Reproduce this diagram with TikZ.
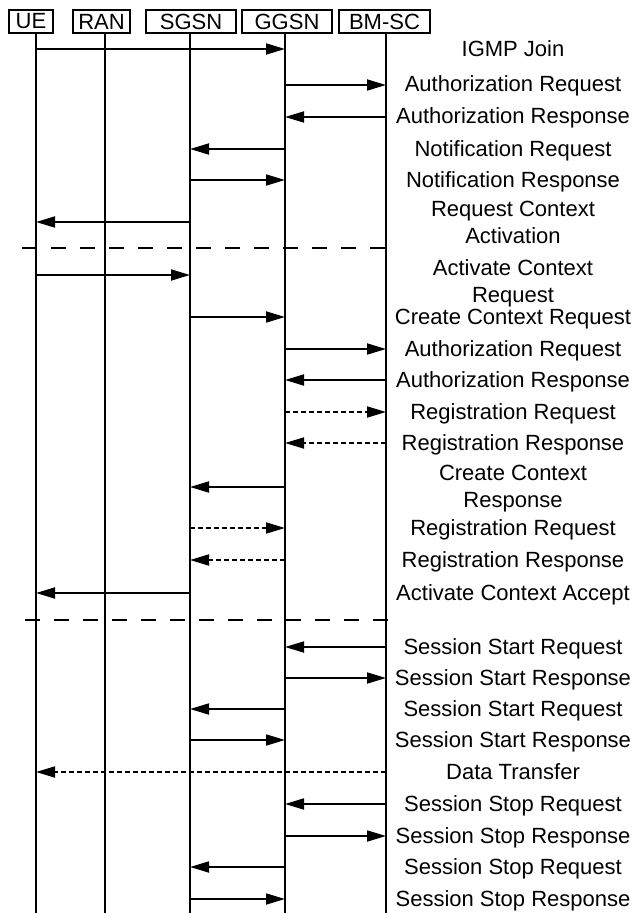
\documentclass[tikz,border=0pt]{standalone}
\usepackage{fontspec}
\setmainfont{Liberation Sans}
\usetikzlibrary{arrows.meta}
\begin{document}
\begin{tikzpicture}[x=1pt,y=-1pt,
  hdr/.style={draw, line width=1.3pt, minimum height=23pt, inner sep=0pt, font=\fontsize{22}{24}\selectfont},
  life/.style={line width=1.8pt},
  msg/.style={line width=1.8pt, -{Triangle[length=19pt,width=11pt]}},
  dmsg/.style={msg, dash pattern=on 5pt off 3pt},
  sepline/.style={line width=1.8pt, dash pattern=on 15pt off 14pt},
  lbl/.style={font=\fontsize{22}{27}\selectfont, align=center, inner sep=0pt, anchor=base}]
\useasboundingbox (0,0) rectangle (636,913);
% header boxes
\node[hdr, minimum width=44pt] (UE)   at (31,21.5)   {UE};
\node[hdr, minimum width=57pt] (RAN)  at (101.5,21.5) {RAN};
\node[hdr, minimum width=90pt] (SGSN) at (191,21.5)  {SGSN};
\node[hdr, minimum width=90pt] (GGSN) at (287,21.5)  {GGSN};
\node[hdr, minimum width=91pt] (BMSC) at (384.5,21.5) {BM-SC};
% lifeline x positions
\coordinate (xUE) at (36,0);
\coordinate (xRAN) at (105,0);
\coordinate (xSGSN) at (190,0);
\coordinate (xGGSN) at (285,0);
\coordinate (xBMSC) at (386,0);
\coordinate (bot) at (0,913);
\draw[life] (UE.south -| xUE) -- (xUE |- bot);
\draw[life] (RAN.south -| xRAN) -- (xRAN |- bot);
\draw[life] (SGSN.south -| xSGSN) -- (xSGSN |- bot);
\draw[life] (GGSN.south -| xGGSN) -- (xGGSN |- bot);
\draw[life] (BMSC.south -| xBMSC) -- (xBMSC |- bot);
% rows
\coordinate (r1) at (0,49);
\coordinate (r2) at (0,85);
\coordinate (r3) at (0,117);
\coordinate (r4) at (0,149);
\coordinate (r5) at (0,180);
\coordinate (r6) at (0,222);
\coordinate (r7) at (0,275);
\coordinate (r8) at (0,317);
\coordinate (r9) at (0,349);
\coordinate (r10) at (0,380);
\coordinate (r11) at (0,412);
\coordinate (r12) at (0,443);
\coordinate (r13) at (0,487);
\coordinate (r14) at (0,528);
\coordinate (r15) at (0,560);
\coordinate (r16) at (0,593);
\coordinate (r17) at (0,647);
\coordinate (r18) at (0,678);
\coordinate (r19) at (0,709);
\coordinate (r20) at (0,740);
\coordinate (r21) at (0,772);
\coordinate (r22) at (0,804);
\coordinate (r23) at (0,836);
\coordinate (r24) at (0,867);
\coordinate (r25) at (0,899);
% separators
\coordinate (s1a) at (22,248);
\coordinate (s1b) at (391,248);
\coordinate (s2a) at (25,620);
\coordinate (s2b) at (394,620);
\draw[sepline] (s1a) -- (s1b);
\draw[sepline] (s2a) -- (s2b);
% messages
\draw[msg] (xUE |- r1) -- (xGGSN |- r1);
\draw[msg] (xGGSN |- r2) -- (xBMSC |- r2);
\draw[msg] (xBMSC |- r3) -- (xGGSN |- r3);
\draw[msg] (xGGSN |- r4) -- (xSGSN |- r4);
\draw[msg] (xSGSN |- r5) -- (xGGSN |- r5);
\draw[msg] (xSGSN |- r6) -- (xUE |- r6);
\draw[msg] (xUE |- r7) -- (xSGSN |- r7);
\draw[msg] (xSGSN |- r8) -- (xGGSN |- r8);
\draw[msg] (xGGSN |- r9) -- (xBMSC |- r9);
\draw[msg] (xBMSC |- r10) -- (xGGSN |- r10);
\draw[dmsg] (xGGSN |- r11) -- (xBMSC |- r11);
\draw[dmsg] (xBMSC |- r12) -- (xGGSN |- r12);
\draw[msg] (xGGSN |- r13) -- (xSGSN |- r13);
\draw[dmsg] (xSGSN |- r14) -- (xGGSN |- r14);
\draw[dmsg] (xGGSN |- r15) -- (xSGSN |- r15);
\draw[msg] (xSGSN |- r16) -- (xUE |- r16);
\draw[msg] (xBMSC |- r17) -- (xGGSN |- r17);
\draw[msg] (xGGSN |- r18) -- (xBMSC |- r18);
\draw[msg] (xGGSN |- r19) -- (xSGSN |- r19);
\draw[msg] (xSGSN |- r20) -- (xGGSN |- r20);
\draw[dmsg] (xBMSC |- r21) -- (xUE |- r21);
\draw[msg] (xBMSC |- r22) -- (xGGSN |- r22);
\draw[msg] (xGGSN |- r23) -- (xBMSC |- r23);
\draw[msg] (xGGSN |- r24) -- (xSGSN |- r24);
\draw[msg] (xSGSN |- r25) -- (xGGSN |- r25);
% labels
\node[lbl] (t1) at (513,56) {IGMP Join};
\node[lbl] (t2) at (513,91) {Authorization Request};
\node[lbl] (t3) at (513,123) {Authorization Response};
\node[lbl] (t4) at (513,156) {Notification Request};
\node[lbl] (t5) at (513,187) {Notification Response};
\node[lbl] (t6) at (513,243) {Request Context\\Activation};
\node[lbl] (t7) at (513,302) {Activate Context\\Request};
\node[lbl] (t8) at (513,324) {Create Context Request};
\node[lbl] (t9) at (513,356) {Authorization Request};
\node[lbl] (t10) at (513,387) {Authorization Response};
\node[lbl] (t11) at (513,419) {Registration Request};
\node[lbl] (t12) at (513,450) {Registration Response};
\node[lbl] (t13) at (513,507) {Create Context\\Response};
\node[lbl] (t14) at (513,535) {Registration Request};
\node[lbl] (t15) at (513,567) {Registration Response};
\node[lbl] (t16) at (513,600) {Activate Context Accept};
\node[lbl] (t17) at (513,654) {Session Start Request};
\node[lbl] (t18) at (513,685) {Session Start Response};
\node[lbl] (t19) at (513,716) {Session Start Request};
\node[lbl] (t20) at (513,747) {Session Start Response};
\node[lbl] (t21) at (513,779) {Data Transfer};
\node[lbl] (t22) at (513,811) {Session Stop Request};
\node[lbl] (t23) at (513,843) {Session Stop Response};
\node[lbl] (t24) at (513,874) {Session Stop Request};
\node[lbl] (t25) at (513,906) {Session Stop Response};
\end{tikzpicture}
\end{document}
